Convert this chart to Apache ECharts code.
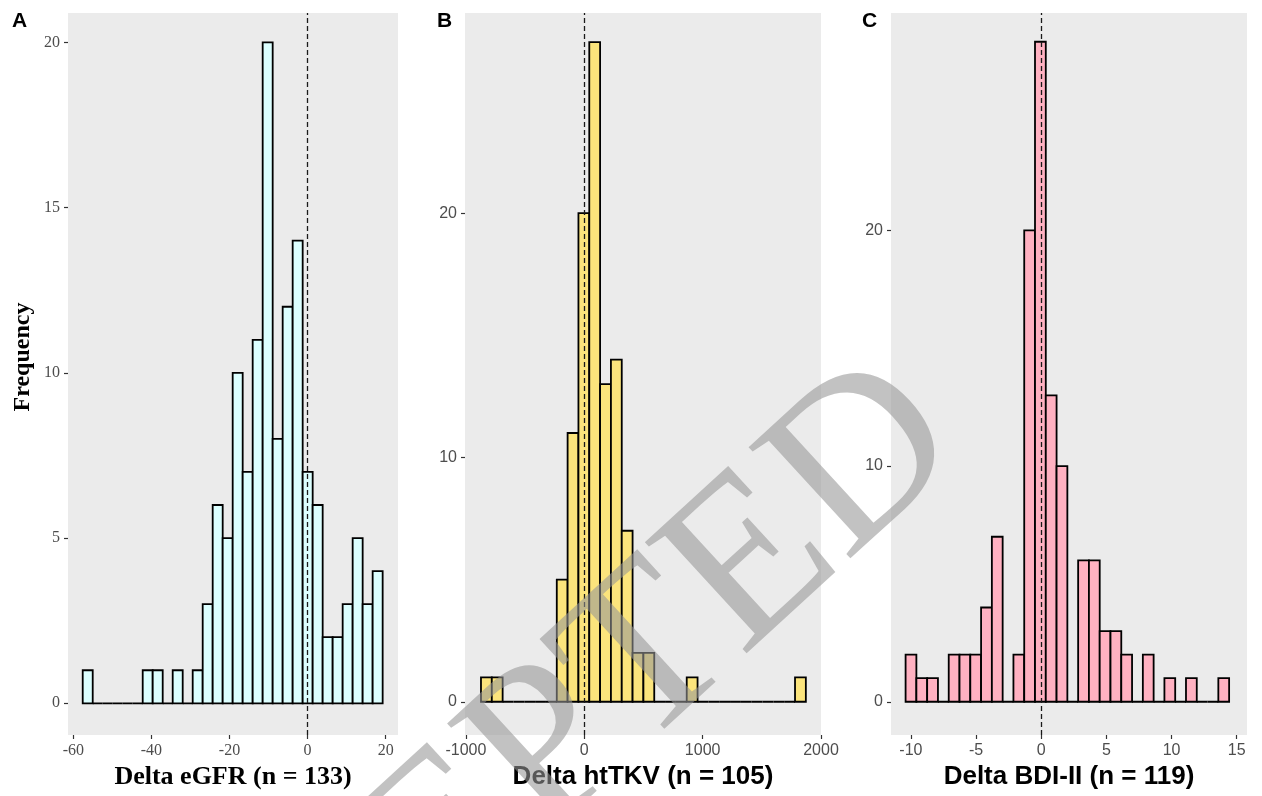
<!DOCTYPE html>
<html>
<head>
<meta charset="utf-8">
<script src="https://cdn.jsdelivr.net/npm/echarts@6/dist/echarts.min.js"></script>
<style>
  html, body { margin: 0; padding: 0; background: #fff; }
  #chart { width: 1262px; height: 796px; }
</style>
</head>
<body>
<div id="chart"></div>
<script>
// histogram counts, 30 bins per panel
const countsA = [1,0,0,0,0,0,1,1,0,1,0,1,3,6,5,10,7,11,20,8,12,14,7,6,2,2,3,5,3,4];
const countsB = [1,1,0,0,0,0,0,5,11,20,27,13,14,7,2,2,0,0,0,1,0,0,0,0,0,0,0,0,0,1];
const countsC = [2,1,1,0,2,2,2,4,7,0,2,20,28,13,10,0,6,6,3,3,2,0,2,0,1,0,1,0,0,1];

// left edge of the first bin and bin width, per panel
const binStarts = [-57.6, -873, -10.41];
const binWidths = [2.561, 91.5, 0.8276];

// axis ticks
const xTicksA = [-60, -40, -20, 0, 20];
const xTicksB = [-1000, 0, 1000, 2000];
const xTicksC = [-10, -5, 0, 5, 10, 15];
const yTicksA = [0, 5, 10, 15, 20];
const yTicksB = [0, 10, 20];
const yTicksC = [0, 10, 20];

const xTitles = ['Delta eGFR (n = 133)', 'Delta htTKV (n = 105)', 'Delta BDI-II (n = 119)'];
const panelLetters = ['A', 'B', 'C'];

const SERIF = "'Liberation Serif','Times New Roman',serif";
const SANS = "'Liberation Sans',Arial,Helvetica,sans-serif";

// layout / style per panel
const panels = [
  { left: 68,  width: 330, xMin: -61.37, xMax: 23.16, yMin: -0.96, yMax: 20.89, fill: '#dcffff', font: SERIF,
    counts: countsA, xTicks: xTicksA, yTicks: yTicksA },
  { left: 465, width: 356, xMin: -1008,  xMax: 2000,  yMin: -1.36, yMax: 28.19, fill: '#fbe47c', font: SANS,
    counts: countsB, xTicks: xTicksB, yTicks: yTicksB },
  { left: 891, width: 356, xMin: -11.53, xMax: 15.79, yMin: -1.41, yMax: 29.22, fill: '#ffb1c1', font: SANS,
    counts: countsC, xTicks: xTicksC, yTicks: yTicksC }
];

const chart = echarts.init(document.getElementById('chart'));

const grid = [], xAxis = [], yAxis = [], series = [];

panels.forEach((p, i) => {
  grid.push({
    left: p.left, top: 13, width: p.width, height: 722,
    show: true, backgroundColor: '#ebebeb', borderWidth: 0,
    containLabel: false, outerBoundsMode: 'none'
  });

  xAxis.push({
    gridIndex: i, type: 'value', min: p.xMin, max: p.xMax,
    axisLine: { show: false, onZero: false },
    axisTick: { show: true, length: 4, customValues: p.xTicks, lineStyle: { color: '#333', width: 1.2 } },
    axisLabel: { customValues: p.xTicks, color: '#4d4d4d', fontSize: 16, fontFamily: p.font, margin: 8,
      formatter: v => String(v) },
    splitLine: { show: false },
    name: xTitles[i], nameLocation: 'middle', nameGap: 26,
    nameTextStyle: { fontSize: 26, fontWeight: 'bold', color: '#000', fontFamily: p.font }
  });

  yAxis.push({
    gridIndex: i, type: 'value', min: p.yMin, max: p.yMax,
    axisLine: { show: false, onZero: false },
    axisTick: { show: true, length: 4, customValues: p.yTicks, lineStyle: { color: '#333', width: 1.2 } },
    axisLabel: { customValues: p.yTicks, color: '#4d4d4d', fontSize: 16, fontFamily: p.font, margin: 8 },
    splitLine: { show: false }
  });

  const start = binStarts[i], w = binWidths[i];
  const data = p.counts.map((c, k) => [start + k * w, start + (k + 1) * w, c]);

  series.push({
    type: 'custom',
    xAxisIndex: i, yAxisIndex: i,
    data,
    encode: { x: [0, 1], y: 2 },
    renderItem: function (params, api) {
      const p0 = api.coord([api.value(0), api.value(2)]);
      const p1 = api.coord([api.value(1), 0]);
      return {
        type: 'rect',
        shape: { x: p0[0], y: p0[1], width: p1[0] - p0[0], height: p1[1] - p0[1] },
        style: { fill: p.fill, stroke: '#000', lineWidth: 1.8 }
      };
    },
    markLine: {
      silent: true,
      symbol: ['none', 'none'],
      label: { show: false },
      lineStyle: { type: [5, 3], color: '#1a1a1a', width: 1.3 },
      data: [{ xAxis: 0 }]
    }
  });
});

const graphic = [
  {
    type: 'text', x: 23, y: 357, rotation: Math.PI / 2,
    style: { text: 'Frequency', font: 'bold 24px ' + SERIF, fill: '#000',
      textAlign: 'center', align: 'center', textVerticalAlign: 'middle', verticalAlign: 'middle' }
  },
  // watermark
  {
    type: 'text', x: 927, y: 406, rotation: 0.742, z: 100, silent: true,
    style: { text: 'ACCEPTED', font: '230px ' + SERIF, fill: 'rgba(150,150,150,0.58)',
      textAlign: 'right', align: 'right', textVerticalAlign: 'middle', verticalAlign: 'middle' }
  }
];
const letterX = [12, 437, 862];
panelLetters.forEach((t, i) => {
  graphic.push({
    type: 'text', x: letterX[i], y: 21,
    style: { text: t, font: 'bold 21px ' + SANS, fill: '#000',
      textAlign: 'left', align: 'left', textVerticalAlign: 'middle', verticalAlign: 'middle' }
  });
});

chart.setOption({
  animation: false,
  grid, xAxis, yAxis, series, graphic
});
</script>
</body>
</html>
